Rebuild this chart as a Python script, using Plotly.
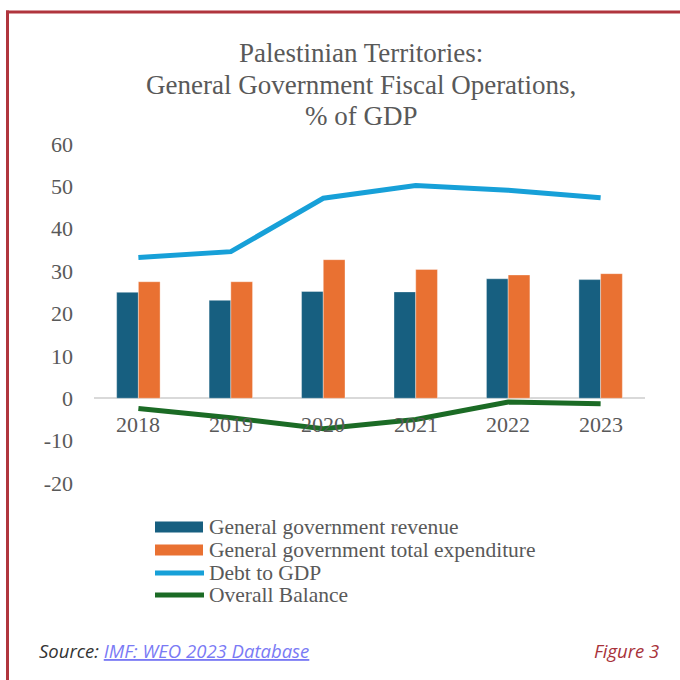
import plotly.graph_objects as go

# Fiscal operations, % of GDP
years = ["2018", "2019", "2020", "2021", "2022", "2023"]
revenue = [25.0, 23.1, 25.2, 25.1, 28.2, 28.0]
expenditure = [27.5, 27.5, 32.7, 30.4, 29.1, 29.4]
debt_to_gdp = [33.2, 34.6, 47.2, 50.2, 49.1, 47.3]
overall_balance = [-2.4, -4.6, -7.2, -5.0, -0.9, -1.3]

series_names = [
    "General government revenue",
    "General government total expenditure",
    "Debt to GDP",
    "Overall Balance",
]
title_lines = [
    "Palestinian Territories:",
    "General Government Fiscal Operations,",
    "% of GDP",
]
y_ticks = [60, 50, 40, 30, 20, 10, 0, -10, -20]

C_REV = "#175f80"
C_EXP = "#e97132"
C_DEBT = "#17a0d8"
C_BAL = "#1b6b25"
C_TEXT = "#595959"
C_FRAME = "#b0353d"
SERIF = "Liberation Serif"
SANS = "Open Sans"

# plot-area geometry in pixels (used to convert page positions to paper units)
W, H = 680, 680
L, R, T, B = 94, 35, 144, 197
PW, PH = W - L - R, H - T - B


def px(x):
    return (x - L) / PW


def py(y):
    return 1 - (y - T) / PH


fig = go.Figure()
fig.add_trace(go.Bar(x=years, y=revenue, name=series_names[0],
                     marker=dict(color=C_REV, line=dict(color="rgba(255,255,255,0.6)", width=0.6)),
                     showlegend=False))
fig.add_trace(go.Bar(x=years, y=expenditure, name=series_names[1],
                     marker=dict(color=C_EXP, line=dict(color="rgba(255,255,255,0.6)", width=0.6)),
                     showlegend=False))
fig.add_trace(go.Scatter(x=years, y=debt_to_gdp, name=series_names[2], mode="lines",
                         line=dict(color=C_DEBT, width=5), showlegend=False))
fig.add_trace(go.Scatter(x=years, y=overall_balance, name=series_names[3], mode="lines",
                         line=dict(color=C_BAL, width=5), showlegend=False))

annotations = []
# title, one annotation per line for tighter leading
for line, yc in zip(title_lines, [53, 85, 116]):
    annotations.append(dict(
        text=line, xref="paper", yref="paper", x=px(361), y=py(yc),
        xanchor="center", yanchor="middle", showarrow=False,
        font=dict(family=SERIF, size=27, color=C_TEXT)))

# category labels sitting just under the zero line
for i, yr in enumerate(years):
    annotations.append(dict(text=yr, x=i, y=0, xref="x", yref="y", xanchor="center",
                            yanchor="top", yshift=-12, showarrow=False,
                            font=dict(family=SERIF, size=22, color=C_TEXT)))

# legend drawn as shapes + labels
shapes = []
leg_rows = [527, 550, 573, 595]
for i, (name, yc) in enumerate(zip(series_names, leg_rows)):
    if i < 2:
        shapes.append(dict(type="rect", xref="paper", yref="paper",
                           x0=px(155), x1=px(203), y0=py(yc - 5.5), y1=py(yc + 5.5),
                           fillcolor=[C_REV, C_EXP][i], line=dict(width=0)))
    else:
        shapes.append(dict(type="line", xref="paper", yref="paper",
                           x0=px(155), x1=px(204), y0=py(yc), y1=py(yc),
                           line=dict(color=[C_DEBT, C_BAL][i - 2], width=5)))
    annotations.append(dict(text=name, xref="paper", yref="paper", x=px(207), y=py(yc),
                            xanchor="left", yanchor="middle", showarrow=False,
                            font=dict(family=SERIF, size=21.5, color=C_TEXT)))

# frame: left and top rules
shapes.append(dict(type="line", xref="paper", yref="paper", x0=px(7.5), x1=px(7.5),
                   y0=py(10.5), y1=py(H + 2), line=dict(color=C_FRAME, width=3)))
shapes.append(dict(type="line", xref="paper", yref="paper", x0=px(6), x1=px(W + 2),
                   y0=py(12), y1=py(12), line=dict(color=C_FRAME, width=3)))

# footer
annotations.append(dict(
    text="<i>Source: <a href='https://www.imf.org/en/Publications/WEO/weo-database/2023/October'>"
         "<span style='color:#7a7af5;text-decoration:underline'>IMF: WEO 2023 Database</span></a></i>",
    xref="paper", yref="paper", x=px(37), y=py(650), xanchor="left", yanchor="middle",
    showarrow=False, font=dict(family=SANS, size=18.5, color="#333333")))
annotations.append(dict(
    text="<i>Figure 3</i>", xref="paper", yref="paper", x=px(661), y=py(650),
    xanchor="right", yanchor="middle", showarrow=False,
    font=dict(family=SANS, size=18.5, color="#a8323a")))

fig.update_layout(
    width=W, height=H,
    margin=dict(l=L, r=R, t=T, b=B, pad=0),
    paper_bgcolor="white", plot_bgcolor="white",
    barmode="group", bargap=0.53, bargroupgap=0,
    showlegend=False,
    annotations=annotations, shapes=shapes,
    xaxis=dict(type="category", range=[-0.48, 5.48], showticklabels=False, showgrid=False,
               showline=False, zeroline=False, ticks=""),
    yaxis=dict(range=[-20, 60], tickvals=y_ticks, ticktext=[str(v) for v in y_ticks],
               showgrid=False, showline=False,
               zeroline=True, zerolinecolor="#d9d9d9", zerolinewidth=2, ticks="",
               ticklabelstandoff=20,
               tickfont=dict(family=SERIF, size=22, color=C_TEXT)),
)

fig.write_html("out.html")
